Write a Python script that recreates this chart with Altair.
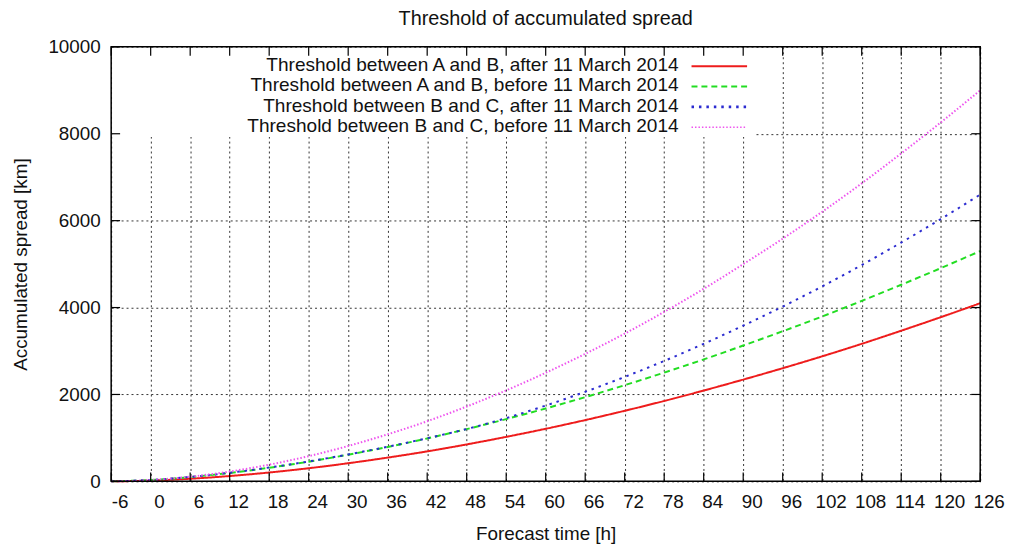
import altair as alt
import pandas as pd

# ---- data ----
hours = [-6, 0, 6, 12, 18, 24, 30, 36, 42, 48, 54, 60, 66, 72, 78, 84, 90, 96, 102, 108, 114, 120, 126]
ab_after = [0, 18, 60, 123, 204, 302, 417, 547, 690, 850, 1024, 1210, 1410, 1624, 1850, 2090, 2342, 2604, 2878, 3165, 3467, 3778, 4100]
ab_before = [0, 31, 99, 194, 313, 453, 614, 792, 988, 1202, 1433, 1678, 1938, 2214, 2503, 2806, 3126, 3455, 3795, 4153, 4525, 4906, 5300]
bc_after = [0, 33, 102, 198, 318, 458, 620, 798, 992, 1205, 1455, 1744, 2061, 2404, 2771, 3165, 3584, 4022, 4487, 4978, 5496, 6036, 6600]
bc_before = [0, 30, 107, 226, 384, 580, 814, 1083, 1384, 1722, 2094, 2498, 2934, 3400, 3900, 4431, 4999, 5585, 6205, 6858, 7547, 8259, 9000]

series_names = [
    "Threshold between A and B, after 11 March 2014",
    "Threshold between A and B, before 11 March 2014",
    "Threshold between B and C, after 11 March 2014",
    "Threshold between B and C, before 11 March 2014",
]
x_ticks = [-6, 0, 6, 12, 18, 24, 30, 36, 42, 48, 54, 60, 66, 72, 78, 84, 90, 96, 102, 108, 114, 120, 126]
x_tick_labels = ["-6", "0", "6", "12", "18", "24", "30", "36", "42", "48", "54", "60", "66",
                 "72", "78", "84", "90", "96", "102", "108", "114", "120", "126"]
y_ticks = [0, 2000, 4000, 6000, 8000, 10000]

# ---- styles ----
colors = ["#ee1c1c", "#22dd22", "#2b2bd0", "#ee55ee"]
dashes = [[1, 0], [6, 4], [2.5, 5], [1.5, 2]]
widths = [2, 2, 2.6, 1.6]
FONT = "Liberation Sans"
W, H = 876, 438

rows = []
for name, vals in zip(series_names, [ab_after, ab_before, bc_after, bc_before]):
    for h, v in zip(hours, vals):
        rows.append({"hour": h, "spread": v, "series": name})
df = pd.DataFrame(rows)

xscale = alt.Scale(domain=[-6, 126], nice=False, zero=False)
yscale = alt.Scale(domain=[0, 10000], nice=False)

x_axis = alt.Axis(values=x_ticks, title="Forecast time [h]", labels=False, titlePadding=44)
y_axis = alt.Axis(values=y_ticks, title="Accumulated spread [km]", format="d",
                  labelPadding=11, titlePadding=18)

def X(field="hour"):
    return alt.X(f"{field}:Q", scale=xscale, axis=x_axis)

def Y(field="spread"):
    return alt.Y(f"{field}:Q", scale=yscale, axis=y_axis)

lines = alt.Chart(df).mark_line(interpolate="monotone").encode(
    x=X(), y=Y(),
    color=alt.Color("series:N", scale=alt.Scale(domain=series_names, range=colors), legend=None),
    strokeDash=alt.StrokeDash("series:N", scale=alt.Scale(domain=series_names, range=dashes), legend=None),
    strokeWidth=alt.StrokeWidth("series:N", scale=alt.Scale(domain=series_names, range=widths), legend=None),
)

xt = pd.DataFrame({"hour": x_ticks, "lab": x_tick_labels})
yt = pd.DataFrame({"spread": y_ticks})

x_labels = alt.Chart(xt).mark_text(
    font=FONT, fontSize=19, color="#111111", align="center", baseline="top", dx=9
).encode(x=X(), y=alt.value(H + 12), text=alt.Text("lab:N"))

TL = 9
tick_bottom = alt.Chart(xt).mark_rule(color="black", strokeWidth=1.2).encode(
    x=X(), y=alt.value(H), y2=alt.value(H - TL))
tick_top = alt.Chart(xt).mark_rule(color="black", strokeWidth=1.2).encode(
    x=X(), y=alt.value(0), y2=alt.value(TL))
tick_left = alt.Chart(yt).mark_rule(color="black", strokeWidth=1.2).encode(
    y=Y(), x=alt.value(0), x2=alt.value(TL))
tick_right = alt.Chart(yt).mark_rule(color="black", strokeWidth=1.2).encode(
    y=Y(), x=alt.value(W), x2=alt.value(W - TL))

one = pd.DataFrame({"k": [0]})
legend_box = alt.Chart(one).mark_rect(color="white").encode(
    x=alt.value(1), x2=alt.value(650), y=alt.value(1), y2=alt.value(91))

legend_layers = []
row_y = [18.5, 39, 59.5, 80]
for name, c, d, w, ry in zip(series_names, colors, dashes, widths, row_y):
    legend_layers.append(
        alt.Chart(pd.DataFrame({"label": [name]})).mark_text(
            align="right", baseline="middle", font=FONT, fontSize=19.2, color="#111111"
        ).encode(text="label:N", x=alt.value(572), y=alt.value(ry))
    )
    legend_layers.append(
        alt.Chart(one).mark_rule(color=c, strokeDash=d, strokeWidth=w).encode(
            x=alt.value(585), x2=alt.value(641), y=alt.value(ry + 1))
    )

border = alt.Chart(one).mark_rect(filled=False, stroke="black", strokeWidth=1.5).encode(
    x=alt.value(0), x2=alt.value(W), y=alt.value(0), y2=alt.value(H))

chart = alt.layer(
    lines, legend_box, *legend_layers, x_labels, tick_bottom, tick_top, tick_left, tick_right, border
).properties(
    width=W, height=H,
    title=alt.TitleParams("Threshold of accumulated spread", font=FONT, fontSize=20,
                          fontWeight="normal", color="#111111", anchor="middle",
                          frame="group", offset=9),
    padding={"left": 104, "top": 37, "right": 26, "bottom": 63},
    autosize=alt.AutoSizeParams(type="none"),
).configure_view(
    stroke="transparent"
).configure_axis(
    domain=False, ticks=False, grid=True, gridColor="#333333", gridDash=[2, 3],
    gridWidth=1, gridOpacity=1,
    labelFont=FONT, labelFontSize=19, labelColor="#111111",
    titleFont=FONT, titleFontSize=19, titleFontWeight="normal", titleColor="#111111",
)

chart.save("out.html", embed_options={"renderer": "svg", "actions": False})
